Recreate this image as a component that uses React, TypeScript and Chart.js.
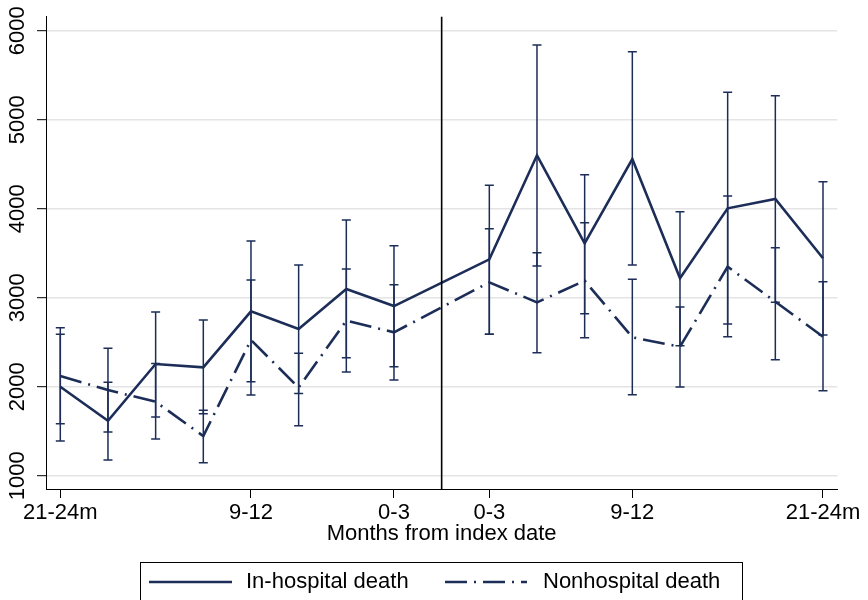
import React, { useEffect, useRef } from "react";
import { Chart, registerables } from "chart.js";

Chart.register(...registerables);

// ---- data ----
const positions = [0, 1, 2, 3, 4, 5, 6, 7, 9, 10, 11, 12, 13, 14, 15, 16];
const categories = [
  "21-24m", "18-21", "15-18", "12-15", "9-12", "6-9", "3-6", "0-3",
  "0-3", "3-6", "6-9", "9-12", "12-15", "15-18", "18-21", "21-24m",
];
const tickPositions = [0, 4, 7, 9, 12, 16];
const tickLabels = ["21-24m", "9-12", "0-3", "0-3", "9-12", "21-24m"];
const yTicks = [1000, 2000, 3000, 4000, 5000, 6000];
const indexDatePosition = 8;

const inHospitalMean = [2000, 1618, 2255, 2218, 2847, 2648, 3098, 2906, 3431, 4600, 3611, 4558, 3218, 4004, 4109, 3443];
const inHospitalLow = [1390, 1176, 1659, 1697, 2056, 1925, 2326, 2225, 2589, 3356, 2820, 3367, 2460, 2704, 2948, 2580];
const inHospitalHigh = [2589, 2049, 2839, 2749, 3637, 3367, 3873, 3584, 4263, 5839, 4382, 5764, 3966, 5308, 5270, 4303];

const nonHospitalMean = [2120, 1963, 1831, 1446, 2525, 1990, 2742, 2611, 3173, 2948, 3191, 2555, 2449, 3348, 2955, 2562];
const nonHospitalLow = [1584, 1491, 1412, 1146, 1907, 1562, 2165, 2075, 2589, 2382, 2551, 1910, 1996, 2562, 2303, 1955];
const nonHospitalHigh = [2663, 2431, 2262, 1735, 3199, 2375, 3322, 3146, 3775, 3506, 3843, 3207, 2895, 4143, 3562, 3180];

const seriesLabels = ["In-hospital death", "Nonhospital death"];
const xTitle = "Months from index date";

// ---- style ----
const NAVY = "#1c2d58";
const FONT = "'Liberation Sans', Arial, Helvetica, sans-serif";
const DASH = [22, 7, 2, 7];

const errorBarPlugin = {
  id: "errorBars",
  afterDatasetsDraw(chart: any) {
    const { ctx } = chart;
    const xs = chart.scales.x;
    const ys = chart.scales.y;
    const sets = [
      [inHospitalLow, inHospitalHigh],
      [nonHospitalLow, nonHospitalHigh],
    ];
    ctx.save();
    ctx.strokeStyle = NAVY;
    ctx.lineWidth = 1.5;
    ctx.setLineDash([]);
    const half = 4.5;
    sets.forEach(([lo, hi]) => {
      positions.forEach((p, i) => {
        const x = xs.getPixelForValue(p);
        const y1 = ys.getPixelForValue(lo[i]);
        const y2 = ys.getPixelForValue(hi[i]);
        ctx.beginPath();
        ctx.moveTo(x, y1);
        ctx.lineTo(x, y2);
        ctx.moveTo(x - half, y1);
        ctx.lineTo(x + half, y1);
        ctx.moveTo(x - half, y2);
        ctx.lineTo(x + half, y2);
        ctx.stroke();
      });
    });
    // index date line
    const xv = xs.getPixelForValue(indexDatePosition);
    ctx.strokeStyle = "#000";
    ctx.lineWidth = 1.6;
    ctx.beginPath();
    ctx.moveTo(xv, chart.chartArea.top);
    ctx.lineTo(xv, chart.chartArea.bottom);
    ctx.stroke();
    ctx.restore();
  },
};

const legendPlugin = {
  id: "boxLegend",
  afterDraw(chart: any) {
    const { ctx } = chart;
    ctx.save();
    ctx.strokeStyle = "#000";
    ctx.lineWidth = 1;
    ctx.setLineDash([]);
    ctx.strokeRect(140.5, 562.5, 602, 40);
    const items = [
      { x0: 149, x1: 232, tx: 246 },
      { x0: 445, x1: 527, tx: 543 },
    ];
    const cy = 582;
    chart.data.datasets.forEach((ds: any, i: number) => {
      const it = items[i];
      ctx.strokeStyle = ds.borderColor;
      ctx.lineWidth = ds.borderWidth;
      ctx.setLineDash(ds.borderDash || []);
      ctx.beginPath();
      ctx.moveTo(it.x0, cy);
      ctx.lineTo(it.x1, cy);
      ctx.stroke();
      ctx.setLineDash([]);
      ctx.fillStyle = "#000";
      ctx.font = `22px ${FONT}`;
      ctx.textBaseline = "middle";
      ctx.textAlign = "left";
      ctx.fillText(ds.label, it.tx, cy);
    });
    ctx.restore();
  },
};

export default function App() {
  const canvasRef = useRef<HTMLCanvasElement | null>(null);

  useEffect(() => {
    if (!canvasRef.current) return;
    const chart = new Chart(canvasRef.current, {
      type: "line",
      data: {
        datasets: [
          {
            label: seriesLabels[0],
            data: positions.map((p, i) => ({ x: p, y: inHospitalMean[i] })),
            borderColor: NAVY,
            borderWidth: 2.6,
            pointRadius: 0,
            fill: false,
            tension: 0,
          },
          {
            label: seriesLabels[1],
            data: positions.map((p, i) => ({ x: p, y: nonHospitalMean[i] })),
            borderColor: NAVY,
            borderWidth: 2.6,
            borderDash: DASH,
            pointRadius: 0,
            fill: false,
            tension: 0,
          },
        ],
      },
      options: {
        animation: false,
        responsive: true,
        maintainAspectRatio: false,
        devicePixelRatio: 1,
        layout: { padding: { left: 0, top: 16.7, right: 30.7, bottom: 51 } },
        plugins: {
          legend: { display: false },
          tooltip: { enabled: false },
        },
        scales: {
          x: {
            type: "linear",
            min: -0.3,
            max: 16.3,
            afterBuildTicks: (s: any) => {
              s.ticks = tickPositions.map((v) => ({ value: v }));
            },
            afterFit: (s: any) => {
              s.height = 60;
              s.paddingLeft = 0;
              s.paddingRight = 0;
            },
            ticks: {
              callback: (_v: any, i: number) => tickLabels[i],
              font: { size: 22, family: FONT },
              color: "#000",
              padding: 1.5,
              minRotation: 0,
              maxRotation: 0,
              autoSkip: false,
            },
            grid: {
              drawOnChartArea: false,
              tickLength: 9,
              tickColor: "#000",
              tickWidth: 1,
            },
            border: { color: "#000", width: 1 },
            title: {
              display: true,
              text: xTitle,
              font: { size: 22, family: FONT },
              color: "#000",
              padding: { top: 0, bottom: 2 },
            },
          },
          y: {
            type: "linear",
            min: 851,
            max: 6157,
            afterBuildTicks: (s: any) => {
              s.ticks = yTicks.map((v) => ({ value: v }));
            },
            afterFit: (s: any) => {
              s.width = 46;
              s.paddingTop = 0;
              s.paddingBottom = 0;
            },
            ticks: {
              callback: (v: any) => String(v),
              minRotation: 90,
              maxRotation: 90,
              crossAlign: "center",
              padding: -5,
              font: { size: 22, family: FONT },
              color: "#000",
            },
            grid: {
              color: "#e4e4e4",
              lineWidth: 1.4,
              tickLength: 9,
              tickColor: "#000",
              tickWidth: 1,
            },
            border: { color: "#000", width: 1 },
          },
        },
      },
      plugins: [errorBarPlugin, legendPlugin],
    } as any);
    return () => chart.destroy();
  }, []);

  return (
    <div style={{ position: "fixed", left: 0, top: 0, width: 868, height: 600, background: "#fff" }}>
      <canvas ref={canvasRef} />
    </div>
  );
}
